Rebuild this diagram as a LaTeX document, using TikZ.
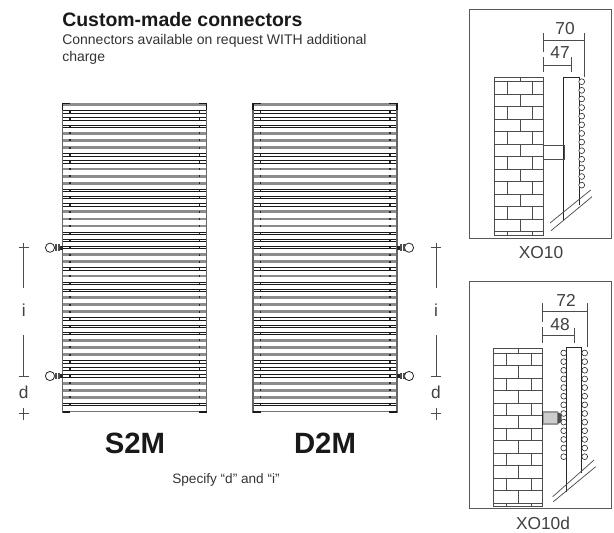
\documentclass[tikz,border=0pt]{standalone}
\usepackage{fontspec}
\setmainfont{Liberation Sans}
\tikzset{
    titletext/.style={anchor=base west,inner sep=0pt,font=\bfseries\fontsize{14.6}{16}\selectfont,text=black!90},
    smalltext/.style={anchor=base west,inner sep=0pt,font=\fontsize{10.5}{13}\selectfont,text=black!80},
    modeltext/.style={inner sep=0pt,font=\bfseries\fontsize{22}{26}\selectfont,text=black!90},
    dimtext/.style={inner sep=0pt,font=\fontsize{13}{15}\selectfont,text=black!75},
    railgrey/.style={draw=black!45,line width=2.1pt},
    railedge/.style={draw=black!90,line width=0.5pt},
    postline/.style={draw=black!60,line width=0.9pt},
    brickline/.style={draw=black!70,line width=0.6pt},
    dimline/.style={draw=black!70,line width=0.55pt},
    boxline/.style={draw=black!65,line width=0.75pt},
    tubering/.style={draw=black!85,line width=0.45pt,fill=white},
}
\begin{document}
\begin{tikzpicture}[x=0.75pt,y=-0.75pt]
    \useasboundingbox (0,0) rectangle (614,532);
    % heading
    \node[titletext] (title) at (62,26.7) {Custom-made connectors};
    \node[smalltext] (subone) at (62,44) {Connectors available on request WITH additional};
    \node[smalltext] (subtwo) at (62,61.5) {charge};

    % the two radiators
    \foreach \xs in {0,190.3} {
        \begin{scope}[shift={(\xs,0)}]
            \foreach \kind [count=\n from 0] in {g,b,b,b,g,g,g,b,b,g,g,g,b,b,b,g,g,g,b,b,b,g,g,b,g,b,b,g,g,g,b,b,b,g,g,g,b,b,b,g,g,g,b} {
                \pgfmathsetmacro{\ry}{104.7+7.14*\n}
                \if\kind g
                    \draw[railgrey] (63,\ry) -- (206.7,\ry);
                \else
                    \draw[railedge] (63,\ry-1.2) -- (206.7,\ry-1.2);
                    \draw[railedge] (63,\ry+1.2) -- (206.7,\ry+1.2);
                \fi
                \ifnum\n>0
                    \fill[black!85] (69.3,\ry-1) rectangle (71,\ry+1);
                    \fill[black!85] (198.5,\ry-1) rectangle (200.2,\ry+1);
                \fi
            }
            \draw[black!55,line width=0.6pt] (63,411.7) -- (206.7,411.7);
            \draw[postline] (62.7,103.5) -- (62.7,412.5);
            \draw[postline] (206.7,103.5) -- (206.7,412.5);
        \end{scope}
    }
    % corner pieces, left radiator
    \draw[railedge,line width=0.9pt] (62.7,110) -- (62.7,103.7) -- (70,103.7);
    \draw[railedge,line width=0.9pt] (62.7,412) -- (70,412);
    \draw[railedge,line width=0.9pt] (199,103.7) -- (206.7,103.7) -- (206.7,110);
    \draw[railedge,line width=0.9pt] (199,412) -- (206.7,412);
    % corner pieces, right radiator
    \draw[railedge,line width=0.9pt] (253,110) -- (253,103.7) -- (260.5,103.7);
    \draw[railedge,line width=0.9pt] (253,412) -- (260.5,412);
    \draw[railedge,line width=0.9pt] (389,103.7) -- (397,103.7) -- (397,110);
    \draw[railedge,line width=0.9pt] (389,412) -- (397,412);

    % valves
    \foreach \vy in {247.7,376} {
        \draw[black!85,line width=0.6pt] (50,\vy) circle (4.6);
        \fill[black!70] (54.5,\vy-3.4) rectangle (60,\vy+3.4);
        \fill[white] (56.6,\vy-3.4) rectangle (57.4,\vy+3.4);
        \fill[black!85] (60,\vy-2) rectangle (62.5,\vy+2);
        \draw[black!85,line width=0.6pt] (409,\vy) circle (4.6);
        \fill[black!70] (399.5,\vy-3.4) rectangle (404.5,\vy+3.4);
        \fill[white] (401.6,\vy-3.4) rectangle (402.4,\vy+3.4);
        \fill[black!85] (397,\vy-2) rectangle (399.5,\vy+2);
    }

    % distance marks
    \foreach \mx in {23.7,436} {
        \draw[dimline] (\mx-5,247.7) -- (\mx+5,247.7);
        \draw[dimline] (\mx,242.5) -- (\mx,288);
        \draw[dimline] (\mx,335) -- (\mx,376);
        \draw[dimline] (\mx-5,376) -- (\mx+5,376);
        \draw[dimline] (\mx-5,413.7) -- (\mx+5,413.7);
        \draw[dimline] (\mx,408) -- (\mx,419.5);
    }
    \node[dimtext] (ileft) at (23.7,310) {i};
    \node[dimtext] (iright) at (436,310) {i};
    \node[dimtext] (dleft) at (23.7,392) {d};
    \node[dimtext] (dright) at (436,392) {d};

    \node[modeltext] (stwom) at (135,443) {S2M};
    \node[modeltext] (dtwom) at (325,443) {D2M};
    \node[smalltext,anchor=center,font=\fontsize{10.2}{13}\selectfont] (specify) at (226,480) {Specify “d” and “i”};

    % detail boxes
    \draw[boxline] (469,9) rectangle (611,238);
    \draw[boxline] (469,281) rectangle (611,508);
    \node[dimtext] (xoten) at (541,253) {XO10};
    \node[dimtext] (xotend) at (543,523.5) {XO10d};

    % walls
    \foreach \xs/\ys in {494.7/77,493.3/348.7} {
        \begin{scope}[shift={(\xs,\ys)}]
            \draw[brickline] (0,0) rectangle (48.6,158);
            \foreach \r in {0,...,12} {
                \draw[brickline] (0,4.6+12.5*\r) -- (48.6,4.6+12.5*\r);
            }
            \foreach \r in {0,2,...,10} {
                \draw[brickline] (13,4.6+12.5*\r) -- (13,17.1+12.5*\r);
                \draw[brickline] (37.6,4.6+12.5*\r) -- (37.6,17.1+12.5*\r);
            }
            \foreach \r in {1,3,...,11} {
                \draw[brickline] (25.5,4.6+12.5*\r) -- (25.5,17.1+12.5*\r);
            }
            \draw[brickline] (25.5,0) -- (25.5,4.6);
            \draw[brickline] (13,154.6) -- (13,158);
            \draw[brickline] (37.6,154.6) -- (37.6,158);
        \end{scope}
    }

    % XO10
    \draw[black!85,line width=0.7pt] (579,205) -- (579,77) -- (563.7,77) -- (563.7,220);
    \foreach \n in {0,...,12} {
        \draw[tubering] (581.7,81.7+8.62*\n) circle (2.9);
    }
    \draw[brickline] (543.3,145) -- (564,145) -- (564,159) -- (543.3,159);
    \draw[dimline] (550,223) -- (590.7,190);
    \draw[dimline] (551,230.7) -- (592,196.7);
    \draw[dimline] (543.3,40) -- (584.3,40);
    \draw[dimline] (543.3,33) -- (543.3,52);
    \draw[dimline] (543.3,57) -- (543.3,72);
    \draw[dimline] (584.3,33) -- (584.3,77);
    \draw[dimline] (543.3,65) -- (571.3,65);
    \draw[dimline] (571.3,57) -- (571.3,72);
    \node[dimtext] (seventy) at (565,29) {70};
    \node[dimtext] (fortyseven) at (560,53) {47};

    % XO10d
    \foreach \n in {0,...,12} {
        \draw[tubering] (563.7,353+8.64*\n) circle (2.9);
        \draw[tubering] (584.7,353+8.64*\n) circle (2.9);
    }
    \draw[black!85,line width=0.7pt] (581.7,473) -- (581.7,347.7) -- (566.7,347.7) -- (566.7,491.7);
    \fill[black!40] (542,411) rectangle (557.5,425);
    \fill[black!20] (544,413) rectangle (557,423);
    \draw[black!85,line width=0.7pt] (542,410.7) -- (542,425);
    \fill[black!70] (557.5,412) -- (561.5,414) -- (561.5,422) -- (557.5,424) -- cycle;
    \draw[dimline] (552.7,496.7) -- (594,460);
    \draw[dimline] (553.3,501.7) -- (595.7,466.7);
    \draw[dimline] (542,311) -- (587.3,311);
    \draw[dimline] (542,303) -- (542,322);
    \draw[dimline] (542,326.7) -- (542,342.7);
    \draw[dimline] (587.3,303) -- (587.3,347);
    \draw[dimline] (542,335) -- (574.7,335);
    \draw[dimline] (574.7,328) -- (574.7,342.7);
    \node[dimtext] (seventytwo) at (566,300.7) {72};
    \node[dimtext] (fortyeight) at (560,325) {48};
\end{tikzpicture}
\end{document}
